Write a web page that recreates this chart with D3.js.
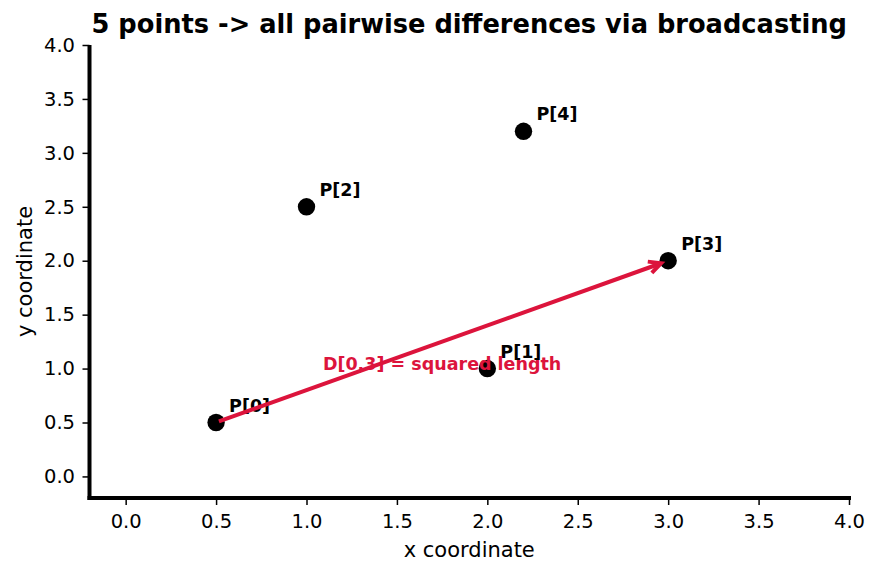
<!DOCTYPE html>
<html><head><meta charset="utf-8">
<script src="https://cdn.jsdelivr.net/npm/d3@7"></script>
<style>body{margin:0;background:#fff}svg{display:block}text{font-family:"DejaVu Sans",sans-serif}</style>
</head><body>
<svg id="c" width="879" height="573"></svg>
<script>
const labels = ["P[0]","P[1]","P[2]","P[3]","P[4]"];
const xs = [0.5, 2.0, 1.0, 3.0, 2.2];
const ys = [0.5, 1.0, 2.5, 2.0, 3.2];
const xTicks = [0,0.5,1,1.5,2,2.5,3,3.5,4];
const yTicks = [0,0.5,1,1.5,2,2.5,3,3.5,4];
const arrowFrom = 0, arrowTo = 3;
const arrowLabel = "D[0,3] = squared length";
const arrowLabelPos = [1.75, 1.0];

const svg = d3.select("#c");
const m = {l:89.5, r:849, t:45, b:498};
const x = d3.scaleLinear().domain([-0.2,4.0]).range([m.l,m.r]);
const y = d3.scaleLinear().domain([-0.2,4.0]).range([m.b,m.t]);

const xa = svg.append("g").attr("transform",`translate(0,${m.b})`)
  .call(d3.axisBottom(x).tickValues(xTicks).tickFormat(d3.format(".1f")).tickSizeOuter(0).tickSize(7).tickPadding(9));
const ya = svg.append("g").attr("transform",`translate(${m.l},0)`)
  .call(d3.axisLeft(y).tickValues(yTicks).tickFormat(d3.format(".1f")).tickSizeOuter(0).tickSize(7).tickPadding(7.5));
[xa,ya].forEach(a=>{
  a.selectAll(".tick line").attr("stroke","#000").attr("stroke-width",1.5);
  a.selectAll(".tick text").attr("fill","#000").style("font-size","19.5px").style("font-family","DejaVu Sans");
  a.select(".domain").raise().attr("stroke","#000").attr("stroke-width",4);
});
xa.select(".domain").attr("d",`M${m.l-2},0H${m.r+2}`);
ya.select(".domain").attr("d",`M0,${m.t}V${m.b+2}`);

svg.append("text").attr("x",(m.l+m.r)/2).attr("y",32.5).attr("text-anchor","middle")
  .style("font-size","25.7px").style("font-weight","bold").text("5 points -> all pairwise differences via broadcasting");
svg.append("text").attr("x",(m.l+m.r)/2).attr("y",557).attr("text-anchor","middle")
  .style("font-size","21px").text("x coordinate");
svg.append("text").attr("transform",`translate(32,${(m.t+m.b)/2}) rotate(-90)`).attr("text-anchor","middle")
  .style("font-size","21px").text("y coordinate");

// points
const pts = labels.map((l,i)=>({l, x:xs[i], y:ys[i]}));
svg.append("g").selectAll("circle").data(pts).join("circle")
  .attr("cx",d=>x(d.x)).attr("cy",d=>y(d.y)).attr("r",8.7).attr("fill","#000");
svg.append("g").selectAll("text").data(pts).join("text")
  .attr("x",d=>x(d.x)+13).attr("y",d=>y(d.y)-11)
  .style("font-size","17.5px").style("font-weight","bold").text(d=>d.l);

// arrow
const col = "#DC143C";
const x0 = x(xs[arrowFrom]), y0 = y(ys[arrowFrom]), x1 = x(xs[arrowTo]), y1 = y(ys[arrowTo]);
const ang = Math.atan2(y1-y0, x1-x0);
const sx = x0 + 3*Math.cos(ang), sy = y0 + 3*Math.sin(ang);
const ex = x1 - 7.5*Math.cos(ang), ey = y1 - 7.5*Math.sin(ang);
svg.append("line").attr("x1",sx).attr("y1",sy).attr("x2",ex-1.5*Math.cos(ang)).attr("y2",ey-1.5*Math.sin(ang))
  .attr("stroke",col).attr("stroke-width",4).attr("stroke-linecap","butt");
const hl = 12, hw = 6;
const bx = ex - hl*Math.cos(ang), by = ey - hl*Math.sin(ang);
const px = -Math.sin(ang), py = Math.cos(ang);
svg.append("path")
  .attr("d",`M${bx+hw*px},${by+hw*py}L${ex},${ey}L${bx-hw*px},${by-hw*py}`)
  .attr("fill","none").attr("stroke",col).attr("stroke-width",4).attr("stroke-linejoin","miter").attr("stroke-linecap","butt");

svg.append("text").attr("x",x(arrowLabelPos[0])).attr("y",y(arrowLabelPos[1])+1).attr("text-anchor","middle")
  .attr("fill",col).style("font-size","17.5px").style("font-weight","bold").text(arrowLabel);
</script>
</body></html>
